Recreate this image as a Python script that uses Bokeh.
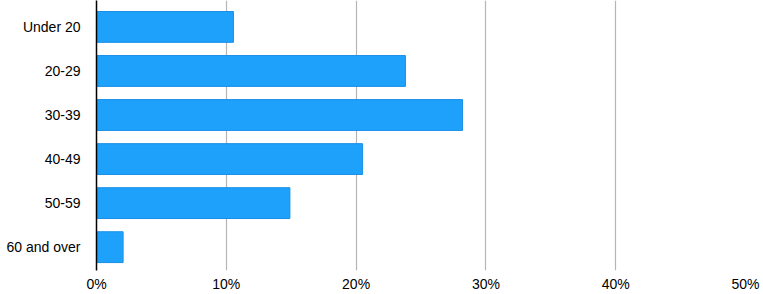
from bokeh.plotting import figure
from bokeh.models import Range1d, FixedTicker, PrintfTickFormatter, ColumnDataSource
from bokeh.embed import file_html
from bokeh.resources import INLINE

# Data (top to bottom as shown)
categories = ["Under 20", "20-29", "30-39", "40-49", "50-59", "60 and over"]
shares = [10.55, 23.8, 28.2, 20.5, 14.9, 2.05]
x_ticks = [0, 10, 20, 30, 40, 50]

n = len(categories)
ypos = [n - 1 - i for i in range(n)]
src = ColumnDataSource(dict(y=ypos, right=shares, cat=categories))

p = figure(width=763, height=294, output_backend="svg", toolbar_location=None,
           x_range=Range1d(0, 50), y_range=Range1d(-0.53, 5.6),
           min_border_left=96, min_border_right=18, min_border_top=0, min_border_bottom=22)
p.outline_line_color = None
p.background_fill_color = "white"
p.border_fill_color = "white"

p.hbar(y="y", right="right", left=0, height=0.7, source=src,
       fill_color="#1DA1FB", line_color="#1A8FE6", line_width=1)

FONT = "Liberation Sans"

xa = p.xaxis[0]
xa.ticker = FixedTicker(ticks=x_ticks)
xa.formatter = PrintfTickFormatter(format="%d%%")
xa.axis_line_color = None
xa.major_tick_line_color = None
xa.minor_tick_line_color = None
xa.major_tick_out = 0
xa.major_tick_in = 0
xa.major_label_standoff = 5
xa.major_label_text_font = FONT
xa.major_label_text_font_size = "14px"
xa.major_label_text_color = "#000000"

ya = p.yaxis[0]
ya.ticker = FixedTicker(ticks=ypos)
ya.major_label_overrides = {yy: c for yy, c in zip(ypos, categories)}
ya.axis_line_color = "#000000"
ya.axis_line_width = 1.5
ya.major_tick_line_color = None
ya.minor_tick_line_color = None
ya.major_tick_out = 0
ya.major_tick_in = 0
ya.major_label_standoff = 16
ya.major_label_text_font = FONT
ya.major_label_text_font_size = "14px"
ya.major_label_text_color = "#000000"

p.xgrid.ticker = FixedTicker(ticks=x_ticks)
p.xgrid.grid_line_color = "#b5b5b5"
p.xgrid.grid_line_width = 1.2
p.ygrid.grid_line_color = None

open("out.html", "w").write(file_html(p, INLINE))
